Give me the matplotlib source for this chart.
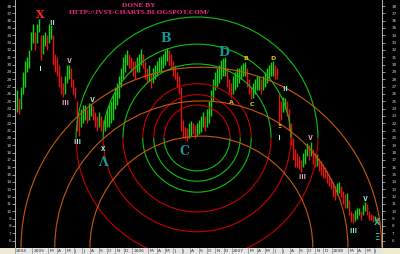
import matplotlib

matplotlib.use("Agg")
import matplotlib.dates as mdates
import matplotlib.pyplot as plt
import numpy as np
import pandas as pd
from matplotlib.patches import Arc, Rectangle

# weekly bars, Nov 2004 .. Jun 2008
FIRST_BAR = "2004-11-06"
LAST_BAR = "2008-06-21"
LOWS = [
    23.5, 23.2, 24.0, 26.0, 27.0, 29.0, 29.5, 32.0, 33.0, 32.0, 33.0, 34.5, 30.6, 31.5, 32.5, 32.0,
    33.0, 33.5, 30.0, 29.0, 28.5, 27.0, 26.0, 25.6, 26.0, 27.5, 28.0, 27.0, 26.0, 25.5, 21.0, 20.3,
    21.5, 22.0, 22.5, 22.0, 22.5, 23.0, 22.5, 21.5, 21.0, 21.5, 21.0, 20.6, 21.0, 21.5, 21.5, 22.0,
    22.5, 24.0, 24.5, 25.5, 27.0, 28.0, 29.0, 30.0, 29.5, 29.0, 28.5, 28.0, 29.0, 29.0, 30.0, 29.5,
    28.0, 27.5, 27.8, 26.8, 27.5, 28.0, 28.5, 29.0, 29.0, 29.5, 30.0, 30.5, 30.0, 29.5, 28.5, 28.0,
    27.0, 26.0, 21.0, 20.0, 19.8, 19.6, 20.0, 20.3, 20.5, 20.0, 20.2, 20.5, 20.8, 21.5, 21.0, 21.5,
    22.0, 23.0, 25.0, 26.5, 27.0, 27.5, 28.0, 28.5, 28.5, 27.0, 26.0, 25.5, 26.0, 26.5, 27.0, 27.5,
    28.0, 28.5, 28.5, 27.0, 26.0, 25.3, 25.5, 26.0, 26.5, 26.5, 26.0, 26.5, 27.0, 27.5, 28.0, 28.5,
    28.5, 28.0, 28.0, 22.0, 22.5, 23.5, 24.0, 23.0, 21.0, 19.0, 17.0, 16.0, 16.0, 15.8, 15.4, 16.0,
    16.5, 17.5, 17.0, 17.5, 16.5, 16.0, 16.2, 15.5, 15.0, 14.5, 14.5, 13.8, 13.5, 13.0, 12.0, 11.5,
    12.2, 12.5, 12.0, 11.0, 10.5, 10.5, 9.5, 8.5, 8.4, 8.7, 9.0, 9.5, 8.8, 9.5, 10.0, 9.5,
    8.8, 8.8, 8.6, 8.7, 8.4, 8.2,
]
HIGHS = [
    26.5, 25.5, 27.0, 29.0, 30.5, 31.0, 32.0, 34.5, 35.5, 34.5, 35.5, 36.2, 34.0, 34.0, 34.5, 34.0,
    35.5, 35.4, 34.0, 31.5, 31.0, 30.0, 28.5, 27.5, 28.5, 30.0, 30.0, 29.5, 28.0, 27.0, 25.0, 23.0,
    24.0, 24.5, 24.5, 24.0, 24.8, 24.6, 24.3, 23.5, 23.0, 23.5, 23.0, 22.5, 23.0, 24.0, 24.5, 25.0,
    26.0, 27.0, 27.5, 28.5, 29.5, 31.0, 31.5, 32.0, 31.5, 31.0, 30.5, 30.5, 31.0, 31.5, 32.2, 31.5,
    30.5, 29.5, 30.0, 28.8, 29.5, 30.0, 30.5, 31.0, 31.2, 31.5, 32.0, 32.3, 32.0, 31.5, 30.5, 30.0,
    29.0, 28.5, 27.0, 22.5, 21.5, 21.3, 22.0, 22.3, 22.0, 21.8, 22.0, 22.5, 23.0, 23.5, 23.0, 24.0,
    25.0, 26.5, 28.0, 29.0, 29.5, 30.0, 30.6, 30.9, 31.0, 29.5, 28.0, 27.5, 28.5, 29.0, 29.5, 29.5,
    30.0, 30.2, 30.4, 29.5, 28.0, 27.0, 27.5, 28.0, 28.5, 28.5, 28.0, 28.5, 29.0, 29.5, 30.0, 30.3,
    30.5, 30.0, 29.5, 26.0, 25.0, 25.6, 25.5, 25.0, 24.0, 22.0, 20.0, 18.5, 18.0, 17.5, 17.0, 18.0,
    18.5, 19.3, 19.0, 19.5, 18.5, 18.0, 17.8, 17.3, 16.8, 16.5, 16.0, 15.5, 15.0, 14.5, 14.0, 13.5,
    13.8, 14.0, 13.5, 12.8, 12.3, 12.5, 11.5, 10.0, 9.8, 10.2, 10.5, 10.5, 10.0, 10.8, 11.2, 11.0,
    10.0, 9.6, 9.5, 9.4, 9.2, 9.0,
]

# circle sets drawn around the C low
RING_CENTRE = ("2006-08-26", 20.0)
INNER_RADII = [4.5, 5.9, 7.4]
OUTER_RADII = [10.1, 12.8, 16.5]
ARC_CENTRE = ("2006-09-11", 5.05)
ARC_RADII = [15.2, 20.0, 24.6]

WAVE_TEXT = ["X", "Ⅰ", "Ⅱ", "Ⅲ", "Ⅴ", "Ⅲ", "Ⅴ", "X", "Λ", "B", "C", "D", "A", "B", "C", "D",
             "Ⅱ", "Ξ", "Ⅰ", "Ⅲ", "Ⅴ", "Ⅲ", "Ⅴ", "X", "Ξ"]
WAVE_DATE = ["2005-01-29", "2005-02-02", "2005-03-14", "2005-05-01", "2005-05-15", "2005-06-14",
             "2005-08-07", "2005-09-16", "2005-09-16", "2006-05-05", "2006-07-13", "2006-12-03",
             "2006-12-28", "2007-02-21", "2007-03-15", "2007-05-31", "2007-07-13", "2007-06-22",
             "2007-06-22", "2007-09-13", "2007-10-15", "2008-03-17", "2008-04-30", "2008-06-13",
             "2008-06-13"]
WAVE_PRICE = [36.8, 29.5, 35.8, 24.9, 30.6, 19.45, 25.2, 18.5, 16.6, 33.5, 18.1, 31.7, 24.8, 30.9,
              24.5, 30.9, 26.7, 21.5, 20.1, 14.7, 20.0, 7.44, 11.8, 8.5, 6.35]
WAVE_KIND = ["red", "cyan", "cyan", "pink", "pink", "cyan", "cyan", "cyan", "teal", "teal", "teal",
             "teal", "gold", "gold", "gold", "gold", "cyan", "gold", "cyan", "pink", "pink", "cyan",
             "cyan", "tealsmall", "tealsmall"]

WAVE_STYLES = {
    "red": dict(color="#ff2424", fontsize=8, family="DejaVu Serif", weight="bold"),
    "teal": dict(color="#1a9494", fontsize=9, family="DejaVu Serif", weight="bold"),
    "tealsmall": dict(color="#2cb4a4", fontsize=6, family="DejaVu Sans", weight="bold"),
    "gold": dict(color="#f0c010", fontsize=4.5, family="DejaVu Sans", weight="bold"),
    "cyan": dict(color="#96ffe6", fontsize=5, family=["Noto Sans CJK JP", "DejaVu Sans"], weight="bold"),
    "pink": dict(color="#ffb0c8", fontsize=5, family=["Noto Sans CJK JP", "DejaVu Sans"], weight="bold"),
}

UP = "#12d212"
DOWN = "#e21414"
RED_RING = "#c80000"
GREEN_RING = "#10c010"
ORANGE_ARC = "#c8580e"

fig = plt.figure(figsize=(4, 2.54), dpi=100, facecolor="black")
ax = fig.add_axes([15 / 400, 6 / 254, 367 / 400, 248 / 254], facecolor="black")
x0 = mdates.date2num(pd.Timestamp("2004-10-30"))
x1 = mdates.date2num(pd.Timestamp("2008-07-02"))
ax.set_xlim(x0, x1)
ax.set_ylim(4.985, 38.82)

lows = np.array(LOWS)
highs = np.array(HIGHS)
dates = mdates.date2num(pd.date_range(FIRST_BAR, LAST_BAR, periods=len(LOWS)))
mids = (lows + highs) / 2
rising = np.diff(mids, prepend=mids[0]) >= 0
ax.vlines(dates, lows, highs, colors=np.where(rising, UP, DOWN), linewidth=1.0, zorder=2)

px_per_day = ax.bbox.width / (x1 - x0)
px_per_price = ax.bbox.height / (38.82 - 4.985)


def ring(centre, r, top, bottom):
    cx = mdates.date2num(pd.Timestamp(centre[0]))
    w = 2 * r * px_per_price / px_per_day
    if top:
        ax.add_patch(Arc((cx, centre[1]), w, 2 * r, theta1=0, theta2=180, color=top, lw=0.8, zorder=3))
    if bottom:
        ax.add_patch(Arc((cx, centre[1]), w, 2 * r, theta1=180, theta2=360, color=bottom, lw=0.8, zorder=3))


for r in INNER_RADII:
    ring(RING_CENTRE, r, RED_RING, GREEN_RING)
for r in OUTER_RADII:
    ring(RING_CENTRE, r, GREEN_RING, RED_RING)
for r in ARC_RADII:
    ring(ARC_CENTRE, r, ORANGE_ARC, None)

for text, d, p, kind in zip(WAVE_TEXT, WAVE_DATE, WAVE_PRICE, WAVE_KIND):
    ax.text(mdates.date2num(pd.Timestamp(d)), p, text, ha="center", va="center", zorder=4,
            **WAVE_STYLES[kind])

ax.set_xticks([])
ax.set_yticks(range(6, 39))
for side in ["top", "bottom"]:
    ax.spines[side].set_visible(False)
for side in ["left", "right"]:
    ax.spines[side].set_color("#d0d0d0")
    ax.spines[side].set_linewidth(0.6)
ax.tick_params(axis="y", colors="#d0d0d0", labelsize=3, length=2, width=0.5, pad=0.3)
right = ax.twinx()
right.set_ylim(ax.get_ylim())
right.set_yticks(range(6, 39))
right.tick_params(axis="y", colors="#d0d0d0", labelsize=3, length=2, width=0.5, pad=5)
for side in ["top", "bottom", "left", "right"]:
    right.spines[side].set_visible(False)

# date bar along the bottom
bar = fig.add_axes([15 / 400, 0, 367 / 400, 6 / 254], facecolor="#e6e6e6")
bar.set_xlim(x0, x1)
bar.set_ylim(0, 1)
bar.set_xticks([])
bar.set_yticks([])
for s in bar.spines.values():
    s.set_visible(False)
labels = [(pd.Timestamp("2004-10-30"), "2004")]
for m in pd.date_range("2005-01-01", "2008-06-01", freq="MS"):
    if m.month == 2:
        continue
    labels.append((m, str(m.year) if m.month == 1 else m.strftime("%b")[0]))
for m, text in labels:
    mx = mdates.date2num(m)
    bar.axvline(mx, color="#8a8a8a", lw=0.5)
    bar.text(mx + 4, 0.5, text, ha="left", va="center", fontsize=3.2, color="#303030")

for left, width in [(0, 15), (382, 18)]:
    fig.patches.append(Rectangle((left / 400, 0), width / 400, 6 / 254, transform=fig.transFigure,
                                 facecolor="#efe9d2", edgecolor="none"))

fig.text(139 / 400, 1 - 5.5 / 254, "DONE BY", ha="center", va="center", fontsize=5.3,
         family="Liberation Serif", weight="bold", color="#f0268c")
fig.text(139.5 / 400, 1 - 13 / 254, "HTTP://JVST-CHARTS.BLOGSPOT.COM/", ha="center", va="center",
         fontsize=5.3, family="Liberation Serif", weight="bold", color="#f0268c")

fig.savefig("out.png", dpi=100, facecolor="black")
